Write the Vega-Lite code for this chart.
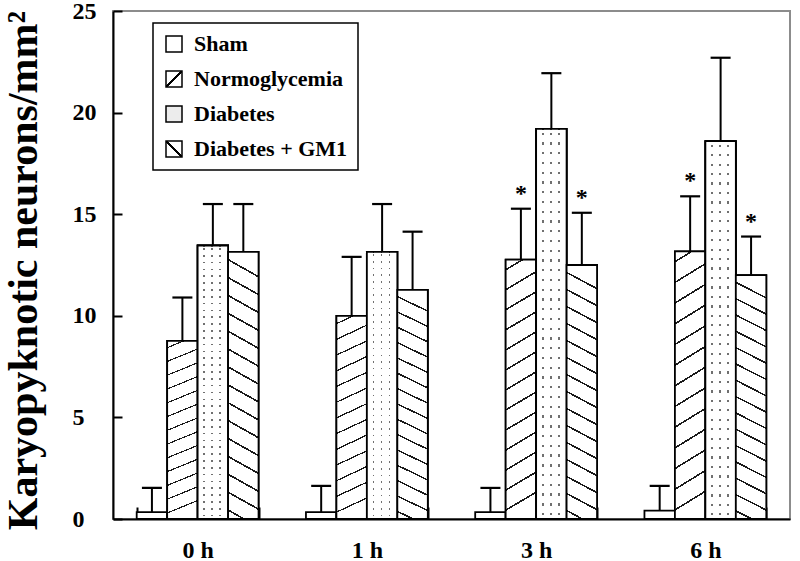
{
  "$schema": "https://vega.github.io/schema/vega-lite/v6.json",
  "width": 677,
  "height": 508,
  "autosize": {"type": "none"},
  "padding": {"left": 113, "top": 11, "right": 10, "bottom": 42},
  "background": "white",
  "data": {
    "values": [
      {"time": "0 h", "group": "Sham", "value": 0.34, "err": 1.53, "sig": ""},
      {"time": "0 h", "group": "Normoglycemia", "value": 8.77, "err": 10.9, "sig": ""},
      {"time": "0 h", "group": "Diabetes", "value": 13.46, "err": 15.5, "sig": ""},
      {"time": "0 h", "group": "Diabetes + GM1", "value": 13.15, "err": 15.5, "sig": ""},
      {"time": "1 h", "group": "Sham", "value": 0.34, "err": 1.63, "sig": ""},
      {"time": "1 h", "group": "Normoglycemia", "value": 10.0, "err": 12.9, "sig": ""},
      {"time": "1 h", "group": "Diabetes", "value": 13.15, "err": 15.5, "sig": ""},
      {"time": "1 h", "group": "Diabetes + GM1", "value": 11.28, "err": 14.14, "sig": ""},
      {"time": "3 h", "group": "Sham", "value": 0.34, "err": 1.53, "sig": ""},
      {"time": "3 h", "group": "Normoglycemia", "value": 12.76, "err": 15.27, "sig": "*"},
      {"time": "3 h", "group": "Diabetes", "value": 19.2, "err": 21.94, "sig": ""},
      {"time": "3 h", "group": "Diabetes + GM1", "value": 12.5, "err": 15.07, "sig": "*"},
      {"time": "6 h", "group": "Sham", "value": 0.41, "err": 1.63, "sig": ""},
      {"time": "6 h", "group": "Normoglycemia", "value": 13.17, "err": 15.88, "sig": "*"},
      {"time": "6 h", "group": "Diabetes", "value": 18.6, "err": 22.7, "sig": ""},
      {"time": "6 h", "group": "Diabetes + GM1", "value": 12.0, "err": 13.9, "sig": "*"}
    ]
  },
  "encoding": {
    "x": {
      "field": "time", "type": "nominal", "sort": ["0 h", "1 h", "3 h", "6 h"],
      "scale": {"paddingInner": 0.28, "paddingOuter": 0.14},
      "axis": {"title": null, "labelAngle": 0, "labelFontSize": 24, "labelBaseline": "top", "labelPadding": 31, "tickSize": -12, "tickBand": "extent"}
    },
    "xOffset": {
      "field": "group", "type": "nominal",
      "scale": {"domain": ["Sham", "Normoglycemia", "Diabetes", "Diabetes + GM1"], "paddingInner": 0, "paddingOuter": 0}
    }
  },
  "layer": [
    {
      "mark": {"type": "bar", "stroke": "black", "strokeWidth": 1.8, "fill": "white"},
      "encoding": {
        "y": {
          "field": "value", "type": "quantitative",
          "scale": {"domain": [0, 25], "nice": false},
          "axis": {
            "title": "Karyopyknotic neurons/mm²", "values": [0, 5, 10, 15, 20, 25],
            "tickSize": -9, "labelAlign": "left", "labelPadding": 50, "labelFontSize": 24,
            "titleFontSize": 42, "titleX": -77, "titleY": 259, "titleBaseline": "alphabetic", "titleAlign": "center", "titleAngle": -90
          }
        }
      }
    },
    {
      "transform": [{"filter": "datum.group === 'Normoglycemia'"}],
      "mark": {
        "type": "bar", "stroke": "black", "strokeWidth": 1.8,
        "fill": {"gradient": "linear", "x1": 0, "y1": 0, "x2": 0.07, "y2": 1, "stops": [
          {"offset": 0, "color": "white"},
          {"offset": 0.035, "color": "white"}, {"offset": 0.035, "color": "#1a1a1a"}, {"offset": 0.042, "color": "#1a1a1a"}, {"offset": 0.042, "color": "white"},
          {"offset": 0.1119, "color": "white"}, {"offset": 0.1119, "color": "#1a1a1a"}, {"offset": 0.1189, "color": "#1a1a1a"}, {"offset": 0.1189, "color": "white"},
          {"offset": 0.1888, "color": "white"}, {"offset": 0.1888, "color": "#1a1a1a"}, {"offset": 0.1958, "color": "#1a1a1a"}, {"offset": 0.1958, "color": "white"},
          {"offset": 0.2657, "color": "white"}, {"offset": 0.2657, "color": "#1a1a1a"}, {"offset": 0.2727, "color": "#1a1a1a"}, {"offset": 0.2727, "color": "white"},
          {"offset": 0.3427, "color": "white"}, {"offset": 0.3427, "color": "#1a1a1a"}, {"offset": 0.3497, "color": "#1a1a1a"}, {"offset": 0.3497, "color": "white"},
          {"offset": 0.4196, "color": "white"}, {"offset": 0.4196, "color": "#1a1a1a"}, {"offset": 0.4266, "color": "#1a1a1a"}, {"offset": 0.4266, "color": "white"},
          {"offset": 0.4965, "color": "white"}, {"offset": 0.4965, "color": "#1a1a1a"}, {"offset": 0.5035, "color": "#1a1a1a"}, {"offset": 0.5035, "color": "white"},
          {"offset": 0.5734, "color": "white"}, {"offset": 0.5734, "color": "#1a1a1a"}, {"offset": 0.5804, "color": "#1a1a1a"}, {"offset": 0.5804, "color": "white"},
          {"offset": 0.6503, "color": "white"}, {"offset": 0.6503, "color": "#1a1a1a"}, {"offset": 0.6573, "color": "#1a1a1a"}, {"offset": 0.6573, "color": "white"},
          {"offset": 0.7273, "color": "white"}, {"offset": 0.7273, "color": "#1a1a1a"}, {"offset": 0.7343, "color": "#1a1a1a"}, {"offset": 0.7343, "color": "white"},
          {"offset": 0.8042, "color": "white"}, {"offset": 0.8042, "color": "#1a1a1a"}, {"offset": 0.8112, "color": "#1a1a1a"}, {"offset": 0.8112, "color": "white"},
          {"offset": 0.8811, "color": "white"}, {"offset": 0.8811, "color": "#1a1a1a"}, {"offset": 0.8881, "color": "#1a1a1a"}, {"offset": 0.8881, "color": "white"},
          {"offset": 0.958, "color": "white"}, {"offset": 0.958, "color": "#1a1a1a"}, {"offset": 0.965, "color": "#1a1a1a"}, {"offset": 0.965, "color": "white"},
          {"offset": 1, "color": "white"}
        ]}
      },
      "encoding": {"y": {"field": "value", "type": "quantitative"}}
    },
    {
      "transform": [{"filter": "datum.group === 'Diabetes'"}],
      "mark": {
        "type": "bar", "stroke": "black", "strokeWidth": 1.8,
        "fill": {"gradient": "linear", "x1": 0, "y1": 0, "x2": 0, "y2": 1, "stops": [
          {"offset": 0, "color": "white"},
          {"offset": 0.0095, "color": "white"}, {"offset": 0.0095, "color": "#707070"}, {"offset": 0.0155, "color": "#707070"}, {"offset": 0.0155, "color": "white"},
          {"offset": 0.0345, "color": "white"}, {"offset": 0.0345, "color": "#707070"}, {"offset": 0.0405, "color": "#707070"}, {"offset": 0.0405, "color": "white"},
          {"offset": 0.0595, "color": "white"}, {"offset": 0.0595, "color": "#707070"}, {"offset": 0.0655, "color": "#707070"}, {"offset": 0.0655, "color": "white"},
          {"offset": 0.0845, "color": "white"}, {"offset": 0.0845, "color": "#707070"}, {"offset": 0.0905, "color": "#707070"}, {"offset": 0.0905, "color": "white"},
          {"offset": 0.1095, "color": "white"}, {"offset": 0.1095, "color": "#707070"}, {"offset": 0.1155, "color": "#707070"}, {"offset": 0.1155, "color": "white"},
          {"offset": 0.1345, "color": "white"}, {"offset": 0.1345, "color": "#707070"}, {"offset": 0.1405, "color": "#707070"}, {"offset": 0.1405, "color": "white"},
          {"offset": 0.1595, "color": "white"}, {"offset": 0.1595, "color": "#707070"}, {"offset": 0.1655, "color": "#707070"}, {"offset": 0.1655, "color": "white"},
          {"offset": 0.1845, "color": "white"}, {"offset": 0.1845, "color": "#707070"}, {"offset": 0.1905, "color": "#707070"}, {"offset": 0.1905, "color": "white"},
          {"offset": 0.2095, "color": "white"}, {"offset": 0.2095, "color": "#707070"}, {"offset": 0.2155, "color": "#707070"}, {"offset": 0.2155, "color": "white"},
          {"offset": 0.2345, "color": "white"}, {"offset": 0.2345, "color": "#707070"}, {"offset": 0.2405, "color": "#707070"}, {"offset": 0.2405, "color": "white"},
          {"offset": 0.2595, "color": "white"}, {"offset": 0.2595, "color": "#707070"}, {"offset": 0.2655, "color": "#707070"}, {"offset": 0.2655, "color": "white"},
          {"offset": 0.2845, "color": "white"}, {"offset": 0.2845, "color": "#707070"}, {"offset": 0.2905, "color": "#707070"}, {"offset": 0.2905, "color": "white"},
          {"offset": 0.3095, "color": "white"}, {"offset": 0.3095, "color": "#707070"}, {"offset": 0.3155, "color": "#707070"}, {"offset": 0.3155, "color": "white"},
          {"offset": 0.3345, "color": "white"}, {"offset": 0.3345, "color": "#707070"}, {"offset": 0.3405, "color": "#707070"}, {"offset": 0.3405, "color": "white"},
          {"offset": 0.3595, "color": "white"}, {"offset": 0.3595, "color": "#707070"}, {"offset": 0.3655, "color": "#707070"}, {"offset": 0.3655, "color": "white"},
          {"offset": 0.3845, "color": "white"}, {"offset": 0.3845, "color": "#707070"}, {"offset": 0.3905, "color": "#707070"}, {"offset": 0.3905, "color": "white"},
          {"offset": 0.4095, "color": "white"}, {"offset": 0.4095, "color": "#707070"}, {"offset": 0.4155, "color": "#707070"}, {"offset": 0.4155, "color": "white"},
          {"offset": 0.4345, "color": "white"}, {"offset": 0.4345, "color": "#707070"}, {"offset": 0.4405, "color": "#707070"}, {"offset": 0.4405, "color": "white"},
          {"offset": 0.4595, "color": "white"}, {"offset": 0.4595, "color": "#707070"}, {"offset": 0.4655, "color": "#707070"}, {"offset": 0.4655, "color": "white"},
          {"offset": 0.4845, "color": "white"}, {"offset": 0.4845, "color": "#707070"}, {"offset": 0.4905, "color": "#707070"}, {"offset": 0.4905, "color": "white"},
          {"offset": 0.5095, "color": "white"}, {"offset": 0.5095, "color": "#707070"}, {"offset": 0.5155, "color": "#707070"}, {"offset": 0.5155, "color": "white"},
          {"offset": 0.5345, "color": "white"}, {"offset": 0.5345, "color": "#707070"}, {"offset": 0.5405, "color": "#707070"}, {"offset": 0.5405, "color": "white"},
          {"offset": 0.5595, "color": "white"}, {"offset": 0.5595, "color": "#707070"}, {"offset": 0.5655, "color": "#707070"}, {"offset": 0.5655, "color": "white"},
          {"offset": 0.5845, "color": "white"}, {"offset": 0.5845, "color": "#707070"}, {"offset": 0.5905, "color": "#707070"}, {"offset": 0.5905, "color": "white"},
          {"offset": 0.6095, "color": "white"}, {"offset": 0.6095, "color": "#707070"}, {"offset": 0.6155, "color": "#707070"}, {"offset": 0.6155, "color": "white"},
          {"offset": 0.6345, "color": "white"}, {"offset": 0.6345, "color": "#707070"}, {"offset": 0.6405, "color": "#707070"}, {"offset": 0.6405, "color": "white"},
          {"offset": 0.6595, "color": "white"}, {"offset": 0.6595, "color": "#707070"}, {"offset": 0.6655, "color": "#707070"}, {"offset": 0.6655, "color": "white"},
          {"offset": 0.6845, "color": "white"}, {"offset": 0.6845, "color": "#707070"}, {"offset": 0.6905, "color": "#707070"}, {"offset": 0.6905, "color": "white"},
          {"offset": 0.7095, "color": "white"}, {"offset": 0.7095, "color": "#707070"}, {"offset": 0.7155, "color": "#707070"}, {"offset": 0.7155, "color": "white"},
          {"offset": 0.7345, "color": "white"}, {"offset": 0.7345, "color": "#707070"}, {"offset": 0.7405, "color": "#707070"}, {"offset": 0.7405, "color": "white"},
          {"offset": 0.7595, "color": "white"}, {"offset": 0.7595, "color": "#707070"}, {"offset": 0.7655, "color": "#707070"}, {"offset": 0.7655, "color": "white"},
          {"offset": 0.7845, "color": "white"}, {"offset": 0.7845, "color": "#707070"}, {"offset": 0.7905, "color": "#707070"}, {"offset": 0.7905, "color": "white"},
          {"offset": 0.8095, "color": "white"}, {"offset": 0.8095, "color": "#707070"}, {"offset": 0.8155, "color": "#707070"}, {"offset": 0.8155, "color": "white"},
          {"offset": 0.8345, "color": "white"}, {"offset": 0.8345, "color": "#707070"}, {"offset": 0.8405, "color": "#707070"}, {"offset": 0.8405, "color": "white"},
          {"offset": 0.8595, "color": "white"}, {"offset": 0.8595, "color": "#707070"}, {"offset": 0.8655, "color": "#707070"}, {"offset": 0.8655, "color": "white"},
          {"offset": 0.8845, "color": "white"}, {"offset": 0.8845, "color": "#707070"}, {"offset": 0.8905, "color": "#707070"}, {"offset": 0.8905, "color": "white"},
          {"offset": 0.9095, "color": "white"}, {"offset": 0.9095, "color": "#707070"}, {"offset": 0.9155, "color": "#707070"}, {"offset": 0.9155, "color": "white"},
          {"offset": 0.9345, "color": "white"}, {"offset": 0.9345, "color": "#707070"}, {"offset": 0.9405, "color": "#707070"}, {"offset": 0.9405, "color": "white"},
          {"offset": 0.9595, "color": "white"}, {"offset": 0.9595, "color": "#707070"}, {"offset": 0.9655, "color": "#707070"}, {"offset": 0.9655, "color": "white"},
          {"offset": 0.9845, "color": "white"}, {"offset": 0.9845, "color": "#707070"}, {"offset": 0.9905, "color": "#707070"}, {"offset": 0.9905, "color": "white"},
          {"offset": 1, "color": "white"}
        ]}
      },
      "encoding": {"y": {"field": "value", "type": "quantitative"}}
    },
    {
      "transform": [{"filter": "datum.group === 'Diabetes'"}],
      "mark": {
        "type": "bar", "stroke": "black", "strokeWidth": 1.8,
        "fill": {"gradient": "linear", "x1": 0, "y1": 0, "x2": 1, "y2": 0, "stops": [
          {"offset": 0, "color": "white"},
          {"offset": 0.19, "color": "white"}, {"offset": 0.19, "color": "rgba(255,255,255,0)"}, {"offset": 0.25, "color": "rgba(255,255,255,0)"}, {"offset": 0.25, "color": "white"},
          {"offset": 0.45, "color": "white"}, {"offset": 0.45, "color": "rgba(255,255,255,0)"}, {"offset": 0.51, "color": "rgba(255,255,255,0)"}, {"offset": 0.51, "color": "white"},
          {"offset": 0.71, "color": "white"}, {"offset": 0.71, "color": "rgba(255,255,255,0)"}, {"offset": 0.77, "color": "rgba(255,255,255,0)"}, {"offset": 0.77, "color": "white"},
          {"offset": 1, "color": "white"}
        ]}
      },
      "encoding": {"y": {"field": "value", "type": "quantitative"}}
    },
    {
      "transform": [{"filter": "datum.group === 'Diabetes + GM1'"}],
      "mark": {
        "type": "bar", "stroke": "black", "strokeWidth": 1.8,
        "fill": {"gradient": "linear", "x1": 0.064, "y1": 0, "x2": 0, "y2": 1, "stops": [
          {"offset": 0, "color": "white"},
          {"offset": 0.0298, "color": "white"}, {"offset": 0.0298, "color": "#1a1a1a"}, {"offset": 0.0368, "color": "#1a1a1a"}, {"offset": 0.0368, "color": "white"},
          {"offset": 0.0965, "color": "white"}, {"offset": 0.0965, "color": "#1a1a1a"}, {"offset": 0.1035, "color": "#1a1a1a"}, {"offset": 0.1035, "color": "white"},
          {"offset": 0.1632, "color": "white"}, {"offset": 0.1632, "color": "#1a1a1a"}, {"offset": 0.1702, "color": "#1a1a1a"}, {"offset": 0.1702, "color": "white"},
          {"offset": 0.2298, "color": "white"}, {"offset": 0.2298, "color": "#1a1a1a"}, {"offset": 0.2368, "color": "#1a1a1a"}, {"offset": 0.2368, "color": "white"},
          {"offset": 0.2965, "color": "white"}, {"offset": 0.2965, "color": "#1a1a1a"}, {"offset": 0.3035, "color": "#1a1a1a"}, {"offset": 0.3035, "color": "white"},
          {"offset": 0.3632, "color": "white"}, {"offset": 0.3632, "color": "#1a1a1a"}, {"offset": 0.3702, "color": "#1a1a1a"}, {"offset": 0.3702, "color": "white"},
          {"offset": 0.4298, "color": "white"}, {"offset": 0.4298, "color": "#1a1a1a"}, {"offset": 0.4368, "color": "#1a1a1a"}, {"offset": 0.4368, "color": "white"},
          {"offset": 0.4965, "color": "white"}, {"offset": 0.4965, "color": "#1a1a1a"}, {"offset": 0.5035, "color": "#1a1a1a"}, {"offset": 0.5035, "color": "white"},
          {"offset": 0.5632, "color": "white"}, {"offset": 0.5632, "color": "#1a1a1a"}, {"offset": 0.5702, "color": "#1a1a1a"}, {"offset": 0.5702, "color": "white"},
          {"offset": 0.6298, "color": "white"}, {"offset": 0.6298, "color": "#1a1a1a"}, {"offset": 0.6368, "color": "#1a1a1a"}, {"offset": 0.6368, "color": "white"},
          {"offset": 0.6965, "color": "white"}, {"offset": 0.6965, "color": "#1a1a1a"}, {"offset": 0.7035, "color": "#1a1a1a"}, {"offset": 0.7035, "color": "white"},
          {"offset": 0.7632, "color": "white"}, {"offset": 0.7632, "color": "#1a1a1a"}, {"offset": 0.7702, "color": "#1a1a1a"}, {"offset": 0.7702, "color": "white"},
          {"offset": 0.8298, "color": "white"}, {"offset": 0.8298, "color": "#1a1a1a"}, {"offset": 0.8368, "color": "#1a1a1a"}, {"offset": 0.8368, "color": "white"},
          {"offset": 0.8965, "color": "white"}, {"offset": 0.8965, "color": "#1a1a1a"}, {"offset": 0.9035, "color": "#1a1a1a"}, {"offset": 0.9035, "color": "white"},
          {"offset": 0.9632, "color": "white"}, {"offset": 0.9632, "color": "#1a1a1a"}, {"offset": 0.9702, "color": "#1a1a1a"}, {"offset": 0.9702, "color": "white"},
          {"offset": 1, "color": "white"}
        ]}
      },
      "encoding": {"y": {"field": "value", "type": "quantitative"}}
    },
    {
      "mark": {"type": "rule", "stroke": "black", "strokeWidth": 2},
      "encoding": {"y": {"field": "value", "type": "quantitative"}, "y2": {"field": "err"}}
    },
    {
      "mark": {"type": "tick", "color": "black", "size": 20, "thickness": 2.2, "opacity": 1},
      "encoding": {"y": {"field": "err", "type": "quantitative"}}
    },
    {
      "mark": {"type": "text", "font": "Liberation Serif", "fontSize": 24, "fontWeight": "bold", "dy": -15, "baseline": "middle", "color": "black"},
      "encoding": {"y": {"field": "err", "type": "quantitative"}, "text": {"field": "sig"}}
    },
    {
      "mark": {"type": "square", "opacity": 0, "size": 10},
      "encoding": {
        "y": {"field": "value", "type": "quantitative"},
        "fill": {
          "field": "group", "type": "nominal",
          "scale": {
            "domain": ["Sham", "Normoglycemia", "Diabetes", "Diabetes + GM1"],
            "range": [
              "white",
              {"expr": "{gradient: 'linear', x1: 0, y1: 0, x2: 1, y2: 1, stops: [{offset: 0, color: 'white'}, {offset: 0.45, color: 'white'}, {offset: 0.45, color: 'black'}, {offset: 0.55, color: 'black'}, {offset: 0.55, color: 'white'}, {offset: 1, color: 'white'}]}"},
              "#ececec",
              {"expr": "{gradient: 'linear', x1: 1, y1: 0, x2: 0, y2: 1, stops: [{offset: 0, color: 'white'}, {offset: 0.45, color: 'white'}, {offset: 0.45, color: 'black'}, {offset: 0.55, color: 'black'}, {offset: 0.55, color: 'white'}, {offset: 1, color: 'white'}]}"}
            ]
          },
          "legend": {
            "title": null, "orient": "none", "legendX": 40, "legendY": 12,
            "symbolType": "square", "symbolSize": 256,
            "labelFont": "Liberation Serif", "labelFontSize": 22, "labelFontWeight": "bold", "labelColor": "black", "labelLimit": 300,
            "labelOffset": 9, "rowPadding": 13, "padding": 10,
            "strokeColor": "black", "fillColor": "white",
            "encode": {
              "symbols": {"update": {"opacity": {"value": 1}, "stroke": {"value": "black"}, "strokeWidth": {"value": 1.5}}},
              "legend": {"update": {"strokeWidth": {"value": 1.5}}}
            }
          }
        }
      }
    }
  ],
  "config": {
    "view": {"stroke": "#8c8c8c", "strokeWidth": 2},
    "axis": {
      "domainColor": "black", "domainWidth": 2, "tickColor": "black", "tickWidth": 2, "grid": false,
      "labelFont": "Liberation Serif", "labelFontWeight": "bold", "labelColor": "black",
      "titleFont": "Liberation Serif", "titleFontWeight": "bold", "titleColor": "black"
    }
  }
}
